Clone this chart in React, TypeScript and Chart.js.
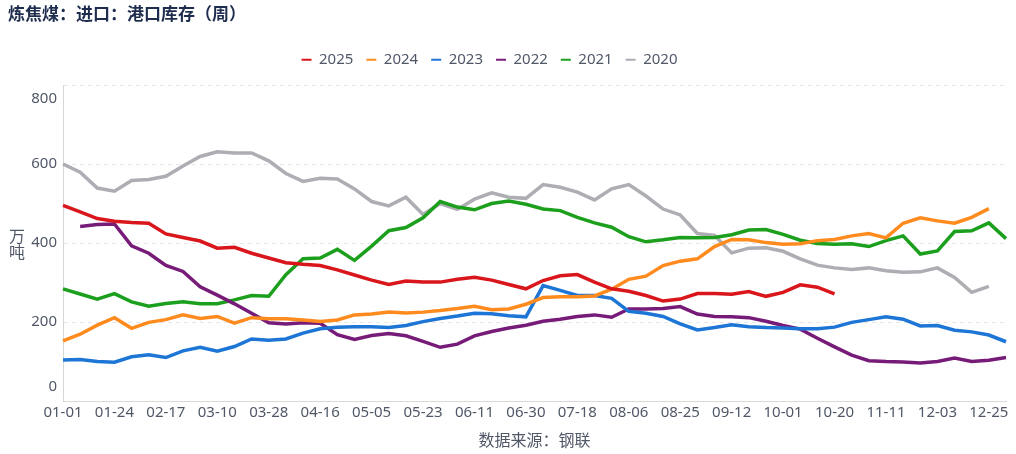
import { useEffect, useRef } from 'react';
import { Chart, registerables } from 'chart.js';

Chart.register(...registerables);

const FONT = "'Noto Sans', 'Noto Sans CJK SC', sans-serif";
const TITLE = '炼焦煤：进口：港口库存（周）';
const SOURCE = '数据来源：钢联';
const Y_UNIT = ['万', '吨'];
const Y_MIN = 0;
const Y_MAX = 800;
const Y_STEP = 200;
const LABEL_STEP = 3;

const dates = [
  '01-01', '01-09', '01-16', '01-24', '02-01', '02-09', '02-17', '02-24', '03-03', '03-10',
  '03-16', '03-22', '03-28', '04-04', '04-10', '04-16', '04-23', '04-29', '05-05', '05-11',
  '05-17', '05-23', '05-30', '06-05', '06-11', '06-18', '06-24', '06-30', '07-06', '07-12',
  '07-18', '07-25', '07-31', '08-06', '08-13', '08-19', '08-25', '08-31', '09-06', '09-12',
  '09-19', '09-25', '10-01', '10-08', '10-14', '10-20', '10-27', '11-04', '11-11', '11-18',
  '11-26', '12-03', '12-10', '12-18', '12-25', '12-31',
];

const years = ['2025', '2024', '2023', '2022', '2021', '2020'];
const colors = ['#d9161c', '#ff8b1f', '#1d76d6', '#771b78', '#1c9f1c', '#adadb4'];

const s2025 = [
  495, 479, 462, 455, 452, 450, 423, 414, 405, 387,
  389, 374, 362, 350, 346, 343, 332, 319, 306, 295,
  304, 301, 301, 308, 313, 306, 295, 284, 305, 317,
  320, 301, 284, 278, 267, 253, 258, 272, 272, 270,
  277, 265, 275, 294, 288, 271, null, null, null, null,
  null, null, null, null, null, null,
];
const s2024 = [
  152, 169, 192, 211, 184, 199, 206, 218, 209, 214,
  197, 211, 208, 208, 205, 201, 205, 218, 220, 225,
  223, 225, 229, 234, 240, 231, 233, 245, 262, 264,
  264, 266, 283, 308, 316, 343, 354, 360, 391, 409,
  408, 401, 397, 398, 406, 409, 418, 424, 413, 450,
  464, 456, 450, 465, 487, null,
];
const s2023 = [
  104, 105, 100, 98, 112, 117, 110, 127, 136, 126,
  138, 157, 154, 157, 172, 183, 187, 188, 188, 186,
  191, 201, 209, 215, 222, 221, 216, 213, 292, 280,
  267, 267, 260, 227, 222, 214, 195, 180, 186, 193,
  188, 186, 185, 183, 183, 187, 199, 206, 213, 207,
  190, 191, 179, 175, 167, 150,
];
const s2022 = [
  null, 442, 447, 448, 393, 374, 343, 328, 289, 268,
  246, 222, 198, 195, 198, 197, 168, 156, 166, 171,
  165, 151, 136, 144, 165, 176, 185, 192, 202, 207,
  214, 218, 212, 233, 233, 234, 239, 220, 214, 213,
  211, 202, 191, 182, 159, 137, 116, 102, 100, 99,
  96, 100, 109, 100, 103, 110,
];
const s2021 = [
  284, 271, 258, 272, 251, 240, 247, 251, 246, 246,
  256, 267, 265, 320, 360, 362, 384, 356, 392, 431,
  439, 464, 505, 491, 484, 500, 506, 498, 486, 482,
  465, 451, 440, 416, 403, 408, 414, 413, 414, 421,
  433, 434, 422, 407, 399, 397, 398, 391, 406, 418,
  372, 380, 429, 431, 451, 411,
];
const s2020 = [
  600, 579, 539, 531, 558, 561, 569, 595, 619, 631,
  628, 628, 608, 576, 556, 564, 562, 537, 505, 494,
  516, 472, 500, 485, 511, 527, 516, 513, 548, 541,
  529, 509, 537, 548, 519, 486, 471, 424, 419, 375,
  387, 388, 379, 360, 344, 337, 333, 337, 330, 326,
  327, 337, 313, 275, 290, null,
];

const seriesData = [s2025, s2024, s2023, s2022, s2021, s2020];

const TEXT_COLOR = '#505868';
const TITLE_COLOR = '#1e2c4d';

const legendShift = {
  id: 'legendShift',
  afterLayout(chart: any) {
    const lg = chart.legend;
    if (lg) {
      lg.right -= 38;
    }
  },
};

const yUnitPlugin = {
  id: 'yUnit',
  afterDraw(chart: any) {
    const { ctx, chartArea } = chart;
    ctx.save();
    ctx.font = `16px ${FONT}`;
    ctx.fillStyle = TEXT_COLOR;
    ctx.textAlign = 'center';
    ctx.textBaseline = 'middle';
    const cy = (chartArea.top + chartArea.bottom) / 2 + 2.5;
    Y_UNIT.forEach((ch, i) => {
      ctx.fillText(ch, 9, cy + (i - (Y_UNIT.length - 1) / 2) * 15.5);
    });
    ctx.restore();
  },
};

export default function App() {
  const ref = useRef<HTMLCanvasElement | null>(null);

  useEffect(() => {
    const canvas = ref.current;
    if (!canvas) return;
    Chart.defaults.font.family = FONT;

    const chart = new Chart(canvas, {
      type: 'line',
      data: {
        labels: dates,
        datasets: years.map((y, i) => ({
          label: y,
          data: seriesData[i],
          borderColor: colors[i],
          backgroundColor: colors[i],
          borderWidth: 3.5,
          pointRadius: 0,
          pointHoverRadius: 0,
          tension: 0,
          fill: false,
          spanGaps: false,
        })),
      },
      options: {
        responsive: true,
        maintainAspectRatio: false,
        animation: false,
        events: [],
        layout: { padding: 0 },
        plugins: {
          title: {
            display: true,
            text: TITLE,
            align: 'start',
            color: TITLE_COLOR,
            font: { size: 17, weight: 'bold', family: FONT },
            padding: { top: 4.5, bottom: 14.3 },
          },
          subtitle: {
            display: true,
            text: '',
            font: { size: 1, lineHeight: 1 },
            padding: { top: 0, bottom: 6.8 },
          },
          legend: {
            display: true,
            position: 'top',
            align: 'center',
            weight: 1800,
            labels: {
              boxWidth: 10,
              boxHeight: 2,
              padding: 13,
              color: TEXT_COLOR,
              font: { size: 15, family: FONT },
              generateLabels: (c: any) =>
                Chart.defaults.plugins.legend.labels
                  .generateLabels(c)
                  .map((l: any) => ({ ...l, fillStyle: l.strokeStyle, lineWidth: 0 })),
            },
          },
          tooltip: { enabled: false },
        },
        scales: {
          x: {
            type: 'category',
            grid: { display: false, drawTicks: false },
            border: { display: true, color: '#d9d9d9', width: 1 },
            ticks: {
              autoSkip: false,
              maxRotation: 0,
              minRotation: 0,
              padding: 3,
              color: TEXT_COLOR,
              font: { size: 15, family: FONT },
              callback: (_v: any, i: number) => (i % LABEL_STEP === 0 ? dates[i] : ''),
            },
            title: {
              display: true,
              text: SOURCE,
              color: TEXT_COLOR,
              font: { size: 16, family: FONT },
              padding: { top: 6.4, bottom: 3.4 },
            },
          },
          y: {
            min: Y_MIN,
            max: Y_MAX,
            grid: { color: '#e6e6e6', lineWidth: 1, drawTicks: false },
            border: { display: true, color: '#d6d6d6', width: 1, dash: [4, 4] },
            ticks: {
              stepSize: Y_STEP,
              padding: 6,
              color: TEXT_COLOR,
              font: { size: 15, lineHeight: '28px', family: FONT },
              callback: (v: any) =>
                v === Y_MAX ? ['', String(v)] : v === Y_MIN ? [String(v), ''] : String(v),
            },
            afterFit: (s: any) => {
              s.width = 55;
            },
          },
        },
      },
      plugins: [legendShift, yUnitPlugin],
    } as any);

    return () => chart.destroy();
  }, []);

  return (
    <div style={{ position: 'absolute', left: 8, top: 0, width: 1001, height: 454 }}>
      <canvas ref={ref} />
    </div>
  );
}
